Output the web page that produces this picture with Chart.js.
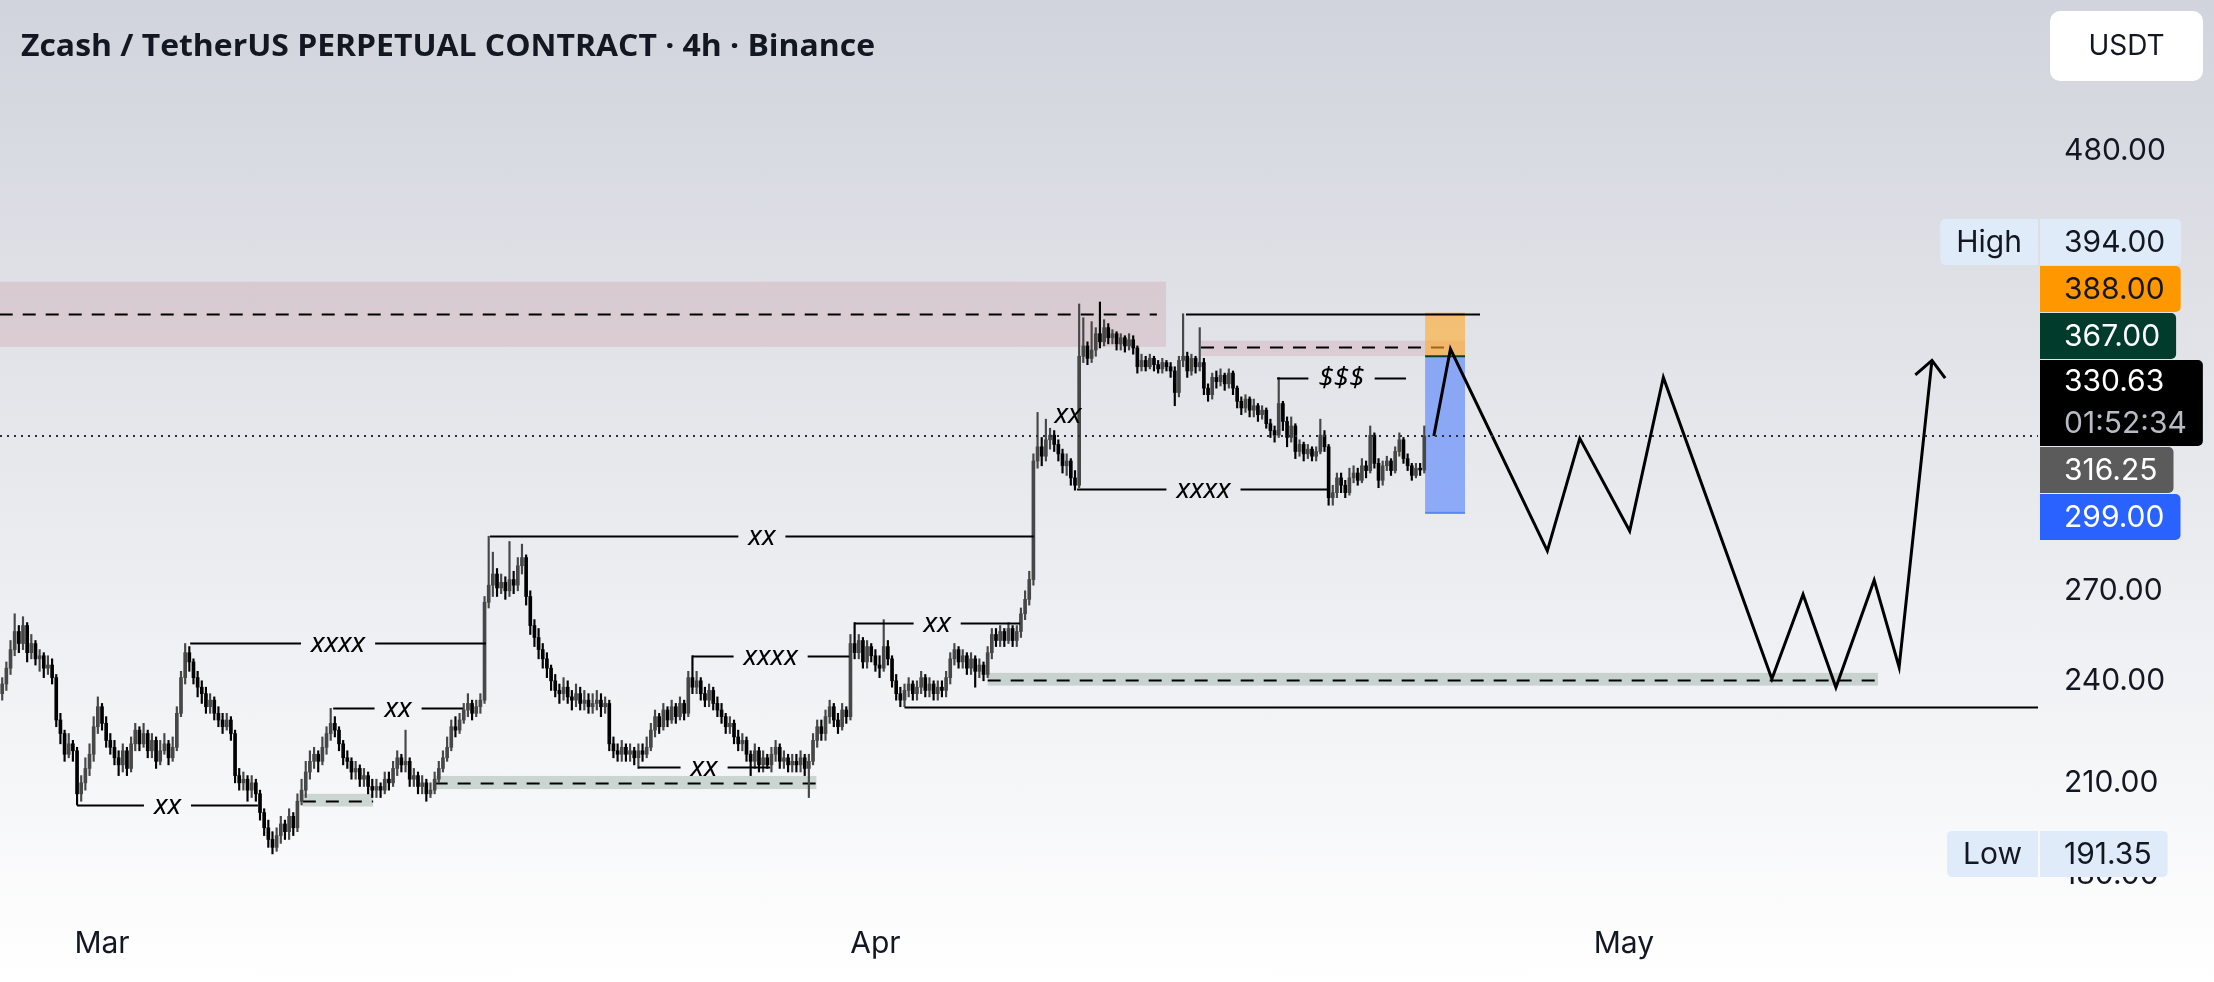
<!DOCTYPE html>
<html>
<head>
<meta charset="utf-8">
<script src="https://cdn.jsdelivr.net/npm/chart.js@4.4.1/dist/chart.umd.min.js"></script>
<style>
  html, body { margin: 0; padding: 0; }
  body { width: 2214px; height: 982px; overflow: hidden;
         background: linear-gradient(180deg, #d1d4dc 0%, #ffffff 100%); }
</style>
</head>
<body>
<canvas id="chart" width="2214" height="982"></canvas>
<script>
// 4h candles, index 0 = first bar of March
const firstIndex = -24;
const firstOpen = 236;
const closes = [
  239,244,250,256,252,258,249,252,247,248,244,245,
  241,228,224,218,221,219,207,210,214,218,226,232,
  227,222,220,217,215,219,214,221,225,221,224,219,
  222,216,219,221,217,220,230,241,249,246,241,238,
  236,232,234,230,228,226,228,224,212,210,211,208,
  210,207,202,198,195,193,196,199,197,201,198,205,
  208,213,216,218,216,220,224,227,225,221,217,216,
  213,214,211,212,209,208,209,208,211,210,214,217,
  215,216,211,212,209,210,207,208,211,214,217,220,
  226,225,228,231,233,230,232,234,266,272,276,271,
  273,270,274,272,279,282,268,258,254,250,247,244,
  240,237,236,238,235,234,236,233,234,232,233,234,
  232,233,221,219,218,220,218,219,217,219,218,220,
  225,229,226,231,228,232,229,233,230,241,238,240,
  236,234,237,233,231,229,226,227,223,221,222,218,
  216,219,215,217,215,218,220,216,217,215,216,215,
  217,214,216,222,226,224,229,232,228,226,231,229,
  252,249,253,246,251,248,245,244,251,247,240,236,
  234,237,239,236,238,241,237,239,236,238,237,241,
  247,250,246,248,244,247,243,245,242,249,255,253,
  256,253,257,253,256,262,267,274,320,326,322,329,
  331,327,323,318,320,313,310,367,372,366,370,378,
  374,381,376,378,373,376,372,375,371,362,365,362,
  366,363,361,364,362,360,350,365,367,360,366,362,
  364,352,349,357,355,358,354,359,352,346,343,347,
  342,344,340,342,336,333,331,345,337,330,335,324,
  327,323,325,322,324,331,326,305,307,313,310,307,
  313,315,312,318,316,331,319,312,318,320,316,324,
  329,321,318,314,317,316.25,330.63
];
const highs = [
  241,246,253,262,258,261,259,255,253,250,249,248,
  247,242,230,225,224,222,220,212,217,221,229,235,
  233,229,224,222,219,221,220,223,227,226,227,225,
  224,223,222,224,222,223,232,243,252,251,247,243,
  240,238,236,235,232,230,230,229,225,214,213,212,
  212,211,208,203,200,197,198,201,200,203,202,207,
  211,216,219,220,219,223,226,231.5,229,226,222,219,
  217,216,215,214,213,211,211,210,213,213,216,219,
  218,225,217,214,213,212,211,210,213,216,219,223,
  228,229,230,233,236,234,234,236,268,290,284,278,
  276,275,288,277,282,287,283,270,260,257,252,249,
  245,242,239,241,240,237,239,238,237,236,236,237,
  236,235,234,223,221,222,221,221,220,221,221,223,
  227,231,230,233,232,234,233,235,234,243,248,243,
  241,238,239,238,235,233,230,229,228,225,224,223,
  219,221,220,219,218,220,222,221,219,218,218,218,
  219,218,218,224,228,228,231,234,233,230,233,232,
  255,259,255,254,253,252,250,248,260,253,248,242,
  238,239,241,240,240,243,242,241,240,240,240,243,
  249,252,251,250,249,249,248,247,246,251,257,257,
  258,257,259,258,258,264,270,277,323,341,330,338,
  334,333,329,325,323,321,316,393,386,374,384,381,
  394,385,383,380,379,378,377,378,377,372,368,367,
  368,367,365,366,365,364,362,367,388,369,368,367,
  381,366,354,359,360,361,359,361,360,353,348,349,
  348,347,345,344,343,338,335,357,346,339,339,336,
  329,328,327,326,326,338,333,327,310,315,315,312,
  317,318,317,321,320,335,332,321,320,322,321,326,
  332,330,323,319,319,319,335
];
const lows = [
  234,237,242,248,249,250,246,247,245,243,241,242,
  239,226,221,216,217,216,204,205,208,212,216,224,
  225,220,218,215,212,213,212,213,219,219,220,217,
  217,214,215,218,215,216,219,229,239,243,239,235,
  233,230,230,228,226,224,225,222,210,208,208,205,
  206,205,200,196,193,191.35,192,194,195,195,196,197,
  204,206,211,214,213,215,218,222,223,219,215,214,
  211,211,209,209,207,206,206,206,207,208,209,212,
  213,213,209,209,207,207,205,206,207,210,213,216,
  219,223,224,227,229,228,229,230,233,264,268,268,
  269,267,268,269,270,276,265,255,251,247,244,241,
  237,235,233,234,233,231,232,231,231,230,230,231,
  229,230,219,217,216,216,216,216,215,214,216,217,
  219,223,224,225,226,227,227,228,228,229,236,236,
  234,232,232,231,229,227,224,224,221,219,219,216,
  212,214,213,213,214,213,216,214,214,213,213,213,
  213,212,206,215,220,222,222,227,226,224,225,227,
  228,247,247,244,244,246,243,241,243,245,238,234,
  232,232,235,234,234,236,235,235,234,234,235,235,
  239,245,244,244,242,242,238,241,240,241,247,251,
  251,251,252,251,251,254,260,265,272,317,318,320,
  325,324,320,315,314,310,308,309,364,363,364,367,
  371,372,373,373,370,370,369,370,368,359,360,360,
  361,360,359,359,360,357,344,348,362,357,358,359,
  360,349,346,347,352,353,351,352,349,343,340,341,
  339,339,337,338,334,330,328,330,333,326,328,321,
  322,320,321,320,320,323,324,302,302,305,307,305,
  306,311,310,311,313,315,317,309,310,316,314,315,
  322,319,316,312,313,314,315
];

// axis ticks
const monthPos = [0, 186, 366];
const monthLabels = ['Mar', 'Apr', 'May'];
const yTicks = [210, 240, 270, 480];
const hiddenTick = 180;

// projected path
const projX = [320.3, 324.3, 347.6, 355.4, 367.4, 375.5, 401.6, 409.1, 417, 426.2, 432.2, 440.1];
const projY = [330.63, 370.5, 284.5, 329.6, 292, 357, 240.6, 268.7, 237.9, 273.8, 244.3, 365];

// zones: supply (pink) and demand (green)
const zoneFrom = [-24.6, 264.3, 48.3, 80, 213];
const zoneTo   = [255.9, 327.8, 65.2, 171.8, 427.1];
const zoneLow  = [371.5, 367.1, 203.6, 208.3, 238.5];
const zoneHigh = [404.6, 374.6, 207.0, 211.9, 242.5];
const zoneMid  = [388, 371.6, 205, 210, 240.3];
const zoneMidTo = [253.7, 324.9, 65.2, 171.8, 427.1];
const zoneColor = ['rgba(203,151,160,0.30)', 'rgba(203,151,160,0.30)',
                   'rgba(150,172,162,0.45)', 'rgba(150,172,162,0.45)', 'rgba(150,172,162,0.45)'];

// structure levels with labels
const lvlFrom  = [-6, 21.2, 55.6, 93.3, 141.9, 128.9, 180.9, 234.5, 282.6];
const lvlTo    = [37.5, 92.35, 86.8, 224.1, 179.7, 160.7, 220.8, 295.3, 313.6];
const lvlPrice = [204, 252.2, 231.5, 290.1, 248, 214.4, 258.8, 308.4, 356.7];
const lvlText  = ['xx', 'xxxx', 'xx', 'xx', 'xxxx', 'xx', 'xx', 'xxxx', '$$$'];
const plainFrom  = [260.7, 193];
const plainTo    = [331.4, 465.6];
const plainPrice = [388, 232];
const noteX = [232.3], noteY = [339.8], noteText = ['xx'];

// short position
const posFrom = 318.2, posTo = 327.8, posStop = 388, posEntry = 367, posTarget = 299;
const lastPrice = 330.63;

// right axis tags
const tagValue = [394, 388, 367, 330.63, 316.25, 299, 191.35];
const tagText  = ['394.00', '388.00', '367.00', '330.63', '316.25', '299.00', '191.35'];
const tagSub   = ['', '', '', '01:52:34', '', '', ''];
const tagSide  = ['High', '', '', '', '', '', 'Low'];
const tagBg    = ['#e0ebfa', '#ff9800', '#003b2b', '#000000', '#5b5b5b', '#2962ff', '#e0ebfa'];
const tagFg    = ['#131722', '#131722', '#ffffff', '#ffffff', '#ffffff', '#ffffff', '#131722'];
const tagAnchor = 4;

const opens = closes.map((c, k) => k === 0 ? firstOpen : closes[k - 1]);
const candleColor = closes.map((c, k) => c >= opens[k] ? '#474747' : '#000000');
const bodyData = closes.map((c, k) => ({ x: firstIndex + k, y: [opens[k], c] }));
const wickData = closes.map((c, k) => ({
  x: firstIndex + k,
  y: [Math.min(lows[k], opens[k], c), Math.max(highs[k], opens[k], c)]
}));
const pathData = projX.map((v, k) => ({ x: v, y: projY[k] }));

Chart.defaults.font.family = 'Inter';

function seg(ctx, x0, x1, y, width, dash) {
  ctx.save();
  ctx.lineWidth = width;
  ctx.strokeStyle = '#000';
  ctx.setLineDash(dash || []);
  ctx.beginPath();
  ctx.moveTo(x0, y);
  ctx.lineTo(x1, y);
  ctx.stroke();
  ctx.restore();
}

const overlay = {
  id: 'overlay',
  beforeDatasetsDraw(chart) {
    const { ctx, chartArea: a, scales: { x, y } } = chart;
    ctx.save();
    ctx.beginPath();
    ctx.rect(a.left, a.top, a.width, a.height);
    ctx.clip();
    zoneFrom.forEach((f, k) => {
      const x0 = x.getPixelForValue(f), x1 = x.getPixelForValue(zoneTo[k]);
      const y0 = y.getPixelForValue(zoneHigh[k]), y1 = y.getPixelForValue(zoneLow[k]);
      ctx.fillStyle = zoneColor[k];
      ctx.fillRect(x0, y0, x1 - x0, y1 - y0);
      seg(ctx, x0, x.getPixelForValue(zoneMidTo[k]), Math.round(y.getPixelForValue(zoneMid[k])) + 0.5, 2, [13, 10]);
    });
    // position tool
    const px0 = x.getPixelForValue(posFrom), px1 = x.getPixelForValue(posTo);
    const ys = y.getPixelForValue(posStop), ye = y.getPixelForValue(posEntry), yt = y.getPixelForValue(posTarget);
    ctx.fillStyle = 'rgba(255,168,39,0.6)';
    ctx.fillRect(px0, ys, px1 - px0, ye - ys);
    ctx.fillStyle = 'rgba(65,117,255,0.55)';
    ctx.fillRect(px0, ye, px1 - px0, yt - ye);
    ctx.fillStyle = '#ffa726'; ctx.fillRect(px0, ys - 1, px1 - px0, 2);
    ctx.fillStyle = '#5b84f5'; ctx.fillRect(px0, yt - 1, px1 - px0, 2);
    ctx.fillStyle = '#0b3d2e'; ctx.fillRect(px0, ye - 1, px1 - px0, 2);
    ctx.restore();
  },
  afterDatasetsDraw(chart) {
    const { ctx, chartArea: a, scales: { x, y } } = chart;
    ctx.save();
    ctx.beginPath();
    ctx.rect(a.left, a.top, a.width, a.height);
    ctx.clip();
    ctx.font = 'italic 28px "Noto Sans"';
    ctx.textAlign = 'center';
    ctx.textBaseline = 'middle';
    ctx.fillStyle = '#000';
    lvlFrom.forEach((f, k) => {
      const x0 = x.getPixelForValue(f), x1 = x.getPixelForValue(lvlTo[k]);
      const yy = Math.round(y.getPixelForValue(lvlPrice[k])) + 0.5;
      const mid = (x0 + x1) / 2;
      const gap = ctx.measureText(lvlText[k]).width / 2 + 10;
      seg(ctx, x0, mid - gap, yy, 2);
      seg(ctx, mid + gap, x1, yy, 2);
      ctx.fillText(lvlText[k], mid, yy + 1);
    });
    plainFrom.forEach((f, k) => {
      seg(ctx, x.getPixelForValue(f), x.getPixelForValue(plainTo[k]),
          Math.round(y.getPixelForValue(plainPrice[k])) + 0.5, 2);
    });
    noteX.forEach((v, k) => ctx.fillText(noteText[k], x.getPixelForValue(v), y.getPixelForValue(noteY[k])));
    // last price dotted line
    ctx.save();
    ctx.strokeStyle = '#2a2e39';
    ctx.lineWidth = 2;
    ctx.setLineDash([2, 5]);
    const yl = Math.round(y.getPixelForValue(lastPrice));
    ctx.beginPath(); ctx.moveTo(a.left, yl); ctx.lineTo(a.right, yl); ctx.stroke();
    ctx.restore();
    // arrow head at the end of projected path
    const n = projX.length;
    const tx = x.getPixelForValue(projX[n - 1]), ty = y.getPixelForValue(projY[n - 1]);
    const bx = x.getPixelForValue(projX[n - 2]), by = y.getPixelForValue(projY[n - 2]);
    const ang = Math.atan2(by - ty, bx - tx);
    ctx.strokeStyle = '#000';
    ctx.lineWidth = 3;
    ctx.beginPath();
    ctx.moveTo(tx + 22 * Math.cos(ang + 0.75), ty + 22 * Math.sin(ang + 0.75));
    ctx.lineTo(tx, ty);
    ctx.lineTo(tx + 22 * Math.cos(ang - 0.75), ty + 22 * Math.sin(ang - 0.75));
    ctx.stroke();
    ctx.restore();
  },
  afterDraw(chart) {
    const { ctx, chartArea: a, scales: { y } } = chart;
    ctx.save();
    // title
    ctx.font = 'bold 30px "Open Sans"';
    ctx.fillStyle = '#131722';
    ctx.textBaseline = 'alphabetic';
    const title = 'Zcash / TetherUS PERPETUAL CONTRACT \u00b7 4h \u00b7 Binance';
    const tw = ctx.measureText(title).width;
    ctx.save();
    ctx.translate(21, 56);
    ctx.scale(854 / tw, 1);
    ctx.fillText(title, 0, 0);
    ctx.restore();
    // currency box
    ctx.fillStyle = '#ffffff';
    ctx.beginPath(); ctx.roundRect(2050, 11, 153, 70, 10); ctx.fill();
    ctx.fillStyle = '#131722';
    ctx.font = '28px Inter';
    ctx.textAlign = 'center';
    ctx.textBaseline = 'middle';
    ctx.fillText('USDT', 2126.5, 47);
    // clamped bottom tick
    ctx.font = '30px Inter';
    ctx.textAlign = 'left';
    ctx.fillText(hiddenTick.toFixed(2), a.right + 26, Math.min(y.getPixelForValue(hiddenTick), a.bottom - 13));
    // stacked price tags
    const h = tagValue.map((v, k) => tagSub[k] ? 86 : 46);
    const top = tagValue.map((v, k) => y.getPixelForValue(v) - h[k] / 2);
    for (let k = tagAnchor - 1; k >= 0; k--) top[k] = Math.min(top[k], top[k + 1] - 1 - h[k]);
    for (let k = tagAnchor + 1; k < tagValue.length; k++) top[k] = Math.max(top[k], top[k - 1] + h[k - 1] + 1);
    tagValue.forEach((v, k) => {
      const w = Math.max(ctx.measureText(tagText[k]).width, tagSub[k] ? ctx.measureText(tagSub[k]).width : 0) + 40;
      ctx.fillStyle = tagBg[k];
      ctx.beginPath(); ctx.roundRect(a.right + 2, top[k], w, h[k], [0, 5, 5, 0]); ctx.fill();
      ctx.fillStyle = tagFg[k];
      ctx.textAlign = 'left';
      ctx.fillText(tagText[k], a.right + 26, top[k] + (tagSub[k] ? 22 : h[k] / 2 + 1));
      if (tagSub[k]) {
        ctx.fillStyle = '#b8bbc3';
        ctx.fillText(tagSub[k], a.right + 26, top[k] + 64);
      }
      if (tagSide[k]) {
        const sw = ctx.measureText(tagSide[k]).width + 32;
        ctx.fillStyle = tagBg[k];
        ctx.beginPath(); ctx.roundRect(a.right - sw, top[k], sw, h[k], [5, 0, 0, 5]); ctx.fill();
        ctx.fillStyle = tagFg[k];
        ctx.textAlign = 'center';
        ctx.fillText(tagSide[k], a.right - sw / 2, top[k] + h[k] / 2 + 1);
      }
    });
    ctx.restore();
  }
};

new Chart(document.getElementById('chart'), {
  type: 'bar',
  data: {
    datasets: [
      { type: 'line', data: pathData, borderColor: '#000', borderWidth: 3, pointRadius: 0,
        tension: 0, fill: false, order: 0 },
      { data: bodyData, backgroundColor: candleColor, barThickness: 3, grouped: false,
        minBarLength: 1, order: 1 },
      { data: wickData, backgroundColor: candleColor, barThickness: 1.5, grouped: false, order: 2 }
    ]
  },
  options: {
    responsive: false,
    animation: false,
    devicePixelRatio: 1,
    layout: { padding: { left: 0, right: 0, top: 0, bottom: 21 } },
    plugins: { legend: { display: false }, tooltip: { enabled: false } },
    scales: {
      x: {
        type: 'linear', min: -24.53, max: 465.6, offset: false,
        grid: { display: false, drawTicks: false }, border: { display: false },
        ticks: { padding: 38, color: '#131722', font: { size: 30 }, maxRotation: 0, autoSkip: false,
                 callback: v => monthLabels[monthPos.indexOf(v)] || '' },
        afterBuildTicks: s => { s.ticks = monthPos.map(v => ({ value: v })); },
        afterFit: s => { s.height = 73; s.paddingLeft = 0; s.paddingRight = 0; }
      },
      y: {
        type: 'logarithmic', position: 'right', min: 183.0, max: 585, beginAtZero: false,
        grid: { display: false, drawTicks: false }, border: { display: false },
        ticks: { padding: 26, color: '#131722', font: { size: 30 }, autoSkip: false,
                 callback: v => Number(v).toFixed(2) },
        afterBuildTicks: s => { s.ticks = yTicks.map(v => ({ value: v })); },
        afterFit: s => { s.width = 176; s.paddingTop = 0; s.paddingBottom = 0; }
      }
    }
  },
  plugins: [overlay]
});
</script>
</body>
</html>
